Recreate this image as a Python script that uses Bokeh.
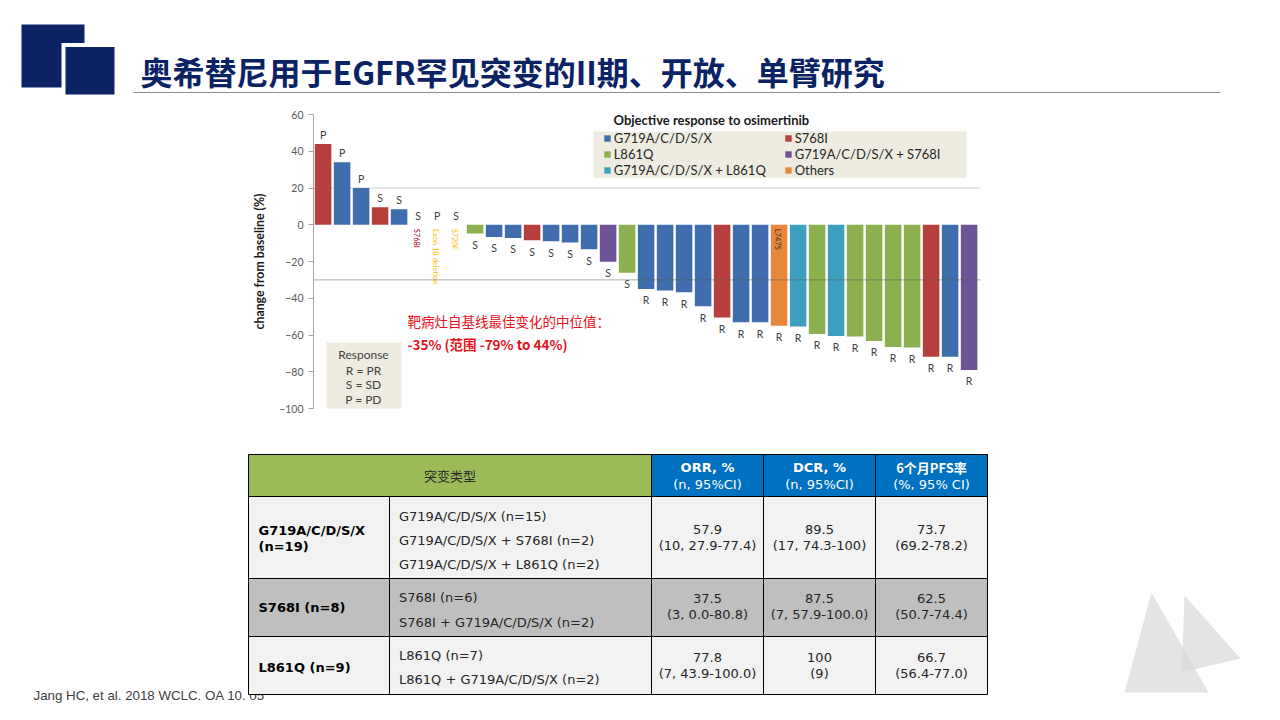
from math import pi
from bokeh.plotting import figure
from bokeh.layouts import column
from bokeh.models import Range1d, FixedTicker, Span, Legend, LegendItem, ColumnDataSource
from bokeh.core.properties import value
from bokeh.embed import file_html
from bokeh.resources import INLINE

# ---------------- data ----------------
bar_values = [44, 34, 20, 9.5, 8.5, 0, 0, 0, -4.8, -6.6, -7.2, -8.4, -9, -9.7, -13.4,
              -20.2, -26.1, -34.9, -35.8, -36.7, -44.3, -50.5, -53, -53, -54.9, -55.4,
              -59.4, -60.5, -60.8, -63.2, -66.5, -66.8, -71.8, -71.8, -79]
G = "G719A/C/D/S/X"
L = "L861Q"
GL = "G719A/C/D/S/X + L861Q"
S = "S768I"
GS = "G719A/C/D/S/X + S768I"
O = "Others"
bar_types = [S, G, G, S, G, S, O, O, L, G, G, S, G, G, G, GS, L, G, G, G, G, S, G, G, O, GL,
             L, GL, L, L, L, L, S, G, GS]
responses = ["P", "P", "P", "S", "S", "S", "P", "S", "S", "S", "S", "S", "S", "S", "S", "S", "S",
             "R", "R", "R", "R", "R", "R", "R", "R", "R", "R", "R", "R", "R", "R", "R", "R", "R", "R"]
legend_groups = [G, L, GL, S, GS, O]
reference_lines = [20, -30]
y_ticks = [60, 40, 20, 0, -20, -40, -60, -80, -100]
note_bars = [6, 7, 8, 25]
note_texts = ["S768I", "Exon 18 deletion", "S720F", "L747S"]
response_key = ["Response", "R = PR", "S = SD", "P = PD"]
median_text = ["靶病灶自基线最佳变化的中位值：", "-35% (范围 -79% to 44%)"]

title_text = "奥希替尼用于EGFR罕见突变的II期、开放、单臂研究"
legend_title = "Objective response to osimertinib"
y_label = "change from baseline (%)"

table_head_left = "突变类型"
table_head_metrics = [["ORR, %", "(n, 95%CI)"], ["DCR, %", "(n, 95%CI)"], ["6个月PFS率", "(%, 95% CI)"]]
table_groups = [["G719A/C/D/S/X", "(n=19)"], ["S768I (n=8)"], ["L861Q (n=9)"]]
table_subtypes = [["G719A/C/D/S/X (n=15)", "G719A/C/D/S/X + S768I (n=2)", "G719A/C/D/S/X + L861Q (n=2)"],
                  ["S768I (n=6)", "S768I + G719A/C/D/S/X (n=2)"],
                  ["L861Q (n=7)", "L861Q + G719A/C/D/S/X (n=2)"]]
table_orr = [["57.9", "(10, 27.9-77.4)"], ["37.5", "(3, 0.0-80.8)"], ["77.8", "(7, 43.9-100.0)"]]
table_dcr = [["89.5", "(17, 74.3-100)"], ["87.5", "(7, 57.9-100.0)"], ["100", "(9)"]]
table_pfs = [["73.7", "(69.2-78.2)"], ["62.5", "(50.7-74.4)"], ["66.7", "(56.4-77.0)"]]
citation = "Jang HC, et al. 2018 WCLC. OA 10. 05"

# ---------------- styles ----------------
NAVY = "#0B2265"
colors = {G: "#3F6DAD", L: "#8CAF4F", GL: "#3F9FBE", S: "#B5403D", GS: "#6D5295", O: "#E5873C"}
note_colors = ["#A50021", "#FFC000", "#FFC000", "#3B2A14"]
W = 1264
H_HDR, H_CH, H_BT = 105, 325, 274


def blank(height, y0, y1):
    f = figure(width=W, height=height, x_range=Range1d(0, W), y_range=Range1d(y1, y0),
               output_backend="svg", toolbar_location=None, min_border=0,
               x_axis_location=None, y_axis_location=None, title=None, frame_align=False)
    f.xgrid.visible = False
    f.ygrid.visible = False
    f.outline_line_color = None
    f.background_fill_color = "white"
    return f


# ---------------- header ----------------
hdr = blank(H_HDR, 0, H_HDR)
hdr.quad(left=[21], right=[84], top=[24], bottom=[87], fill_color=NAVY, line_color=None)
hdr.quad(left=[61], right=[118], top=[42.5], bottom=[98], fill_color="white", line_color=None)
hdr.quad(left=[65], right=[114], top=[46.5], bottom=[94], fill_color=NAVY, line_color=None)
hdr.text(x=[140], y=[70], text=[title_text], text_font=value("Noto Sans CJK SC"),
         text_font_style="bold", text_font_size="32px", text_color=NAVY,
         text_baseline="middle", text_align="left")
hdr.segment(x0=[133], x1=[1220], y0=[92], y1=[92], line_color="#8C8C8C", line_width=1)

# ---------------- chart ----------------
FX0, FX1 = 313, 980
FY0, FY1 = 114, 408
PITCH = 19.0
XS = 0.495
XE = XS + (FX1 - FX0) / PITCH
YMIN, YMAX = -100, 60


def dx(px):
    return XS + (px - FX0) / PITCH


def dy(py):
    return YMAX - (py - FY0) * (YMAX - YMIN) / (FY1 - FY0)


p = figure(width=W, height=H_CH, x_range=Range1d(XS, XE), y_range=Range1d(YMIN, YMAX),
           output_backend="svg", toolbar_location=None, title=None, frame_align=False,
           min_border_left=FX0, min_border_right=W - FX1,
           min_border_top=FY0 - H_HDR, min_border_bottom=H_HDR + H_CH - FY1,
           x_axis_location=None)
p.xgrid.visible = False
p.ygrid.visible = False
p.outline_line_color = None
yax = p.yaxis[0]
yax.ticker = FixedTicker(ticks=y_ticks)
yax.minor_tick_line_color = None
yax.major_tick_in = 0
yax.major_tick_out = 5
yax.major_tick_line_color = "#A6A6A6"
yax.axis_line_color = "#A6A6A6"
yax.major_label_text_font = "Lato"
yax.major_label_text_font_size = "10.5px"
yax.major_label_text_color = "#595959"
yax.major_label_standoff = 5
yax.axis_label = y_label
yax.axis_label_text_font = "Lato"
yax.axis_label_text_font_size = "12.3px"
yax.axis_label_text_font_style = "bold"
yax.axis_label_text_color = "#1a1a1a"
yax.axis_label_standoff = 9

# +20 reference line behind bars, -30 over bars
p.add_layout(Span(location=reference_lines[0], dimension="width", line_color="#9A9A9A",
                  line_dash="1 1", line_width=1, level="underlay"))

# legend background box
p.quad(left=[dx(593)], right=[dx(966)], top=[dy(131)], bottom=[dy(177.5)],
       fill_color="#EEECE1", line_color=None)

xs = list(range(1, len(bar_values) + 1))
items = []
for g in legend_groups:
    idx = [i for i, t in enumerate(bar_types) if t == g]
    src = ColumnDataSource(dict(x=[xs[i] for i in idx], top=[bar_values[i] for i in idx]))
    r = p.vbar(x="x", top="top", bottom=0, width=0.87, source=src,
               fill_color=colors[g], line_color=None)
    items.append(LegendItem(label=g, renderers=[r]))

p.add_layout(Span(location=reference_lines[1], dimension="width", line_color="#5A5A5A",
                  line_dash="1 1", line_width=1))

# response letters
offs = [-9 if v >= 0 else 11.5 for v in bar_values]
p.text(x=xs, y=bar_values, text=responses, y_offset=offs, text_font=value("Lato"),
       text_font_size="10.5px", text_color="#404040", text_align="center",
       text_baseline="middle")

# mutation notes (vertical)
p.text(x=note_bars, y=[0] * len(note_bars), text=note_texts, angle=-pi / 2,
       x_offset=-2, y_offset=4, text_font=value("Lato"), text_font_size="7.5px",
       text_color=note_colors, text_align="left", text_baseline="middle")

legend = Legend(items=items, location=(602.7 - FX0, FY1 - 178.3), ncols=2,
                padding=0, spacing=0, margin=0, glyph_width=8, glyph_height=8,
                label_standoff=3, label_height=16, label_width=170,
                label_text_font="Lato", label_text_font_size="13px",
                label_text_color="#262626", background_fill_alpha=0,
                border_line_color=None)
p.add_layout(legend, "center")

p.text(x=[dx(613)], y=[dy(119.3)], text=[legend_title], text_font=value("Lato"),
       text_font_style="bold", text_font_size="13px", text_color="#1a1a1a",
       text_align="left", text_baseline="middle")

# response key box
p.quad(left=[dx(326)], right=[dx(401)], top=[dy(342)], bottom=[dy(410)],
       fill_color="#EEECE1", line_color=None)
p.text(x=[dx(363)] * 4, y=[dy(354.3), dy(369.5), dy(384), dy(398.5)], text=response_key,
       text_font=value("Lato"), text_font_size="12px", text_color="#404040",
       text_align="center", text_baseline="middle")

# median annotation
p.text(x=[dx(407)], y=[dy(320)], text=[median_text[0]], text_font=value("Noto Sans CJK SC"),
       text_font_size="13.5px", text_color="#E8101A", text_align="left", text_baseline="middle")
p.text(x=[dx(407)], y=[dy(343.3)], text=[median_text[1]], text_font=value("Noto Sans CJK SC"),
       text_font_style="bold", text_font_size="13.5px", text_color="#E8101A",
       text_align="left", text_baseline="middle")

# ---------------- bottom (table) ----------------
Y0_BT = H_HDR + H_CH
bt = blank(H_BT, Y0_BT, Y0_BT + H_BT)
bt.text(x=[33], y=[695], text=[citation], text_font=value("Liberation Sans"),
        text_font_size="13.3px", text_color="#404040", text_align="left", text_baseline="middle")

col_edges = [248, 389, 651, 763, 875, 987]
row_edges = [454, 496, 578, 636, 694]
row_fills = ["#F2F2F2", "#BFBFBF", "#F2F2F2"]

bt.quad(left=[col_edges[0]], right=[col_edges[2]], top=[row_edges[0]], bottom=[row_edges[1]],
        fill_color="#9BBB59", line_color="black", line_width=1)
bt.quad(left=col_edges[2:5], right=col_edges[3:6], top=[row_edges[0]] * 3,
        bottom=[row_edges[1]] * 3, fill_color="#0070C0", line_color="black", line_width=1)
for r in range(3):
    bt.quad(left=col_edges[:5], right=col_edges[1:], top=[row_edges[r + 1]] * 5,
            bottom=[row_edges[r + 2]] * 5, fill_color=row_fills[r], line_color="black",
            line_width=1)

TXT = "#262626"
TF = value("DejaVu Sans")
FS = "13px"
bt.text(x=[(col_edges[0] + col_edges[2]) / 2], y=[475], text=[table_head_left],
        text_font=value("Noto Sans CJK SC"), text_font_size="13px", text_color=TXT,
        text_align="center", text_baseline="middle")
centers = [(col_edges[i] + col_edges[i + 1]) / 2 for i in range(2, 5)]
for i, (l1, l2) in enumerate(table_head_metrics):
    fnt = value("Noto Sans CJK SC") if i == 2 else TF
    bt.text(x=[centers[i]], y=[467], text=[l1], text_font=fnt, text_font_style="bold",
            text_font_size=FS, text_color="white", text_align="center",
            text_baseline="middle")
    bt.text(x=[centers[i]], y=[484], text=[l2], text_font=TF, text_font_size=FS,
            text_color="white", text_align="center", text_baseline="middle")

group_y = [[530, 546], [606.7], [666.7]]
sub_y = [[515.7, 540, 564], [596.7, 621.7], [655, 678.7]]
val_y = [[529.3, 545.3], [598.3, 614], [656.7, 672.7]]
for r in range(3):
    bt.text(x=[258] * len(table_groups[r]), y=group_y[r], text=table_groups[r], text_font=TF,
            text_font_style="bold", text_font_size=FS, text_color="black",
            text_align="left", text_baseline="middle")
    bt.text(x=[398.5] * len(table_subtypes[r]), y=sub_y[r], text=table_subtypes[r],
            text_font=TF, text_font_size=FS, text_color=TXT, text_align="left",
            text_baseline="middle")
    for c, col in enumerate([table_orr, table_dcr, table_pfs]):
        bt.text(x=[centers[c]] * 2, y=val_y[r], text=col[r], text_font=TF,
                text_font_size=FS, text_color=TXT, text_align="center",
                text_baseline="middle")

bt.patches(xs=[[1151, 1124, 1208], [1184, 1240, 1181]], ys=[[592, 692, 692], [595, 658, 672]],
           fill_color="#D9D9D9", fill_alpha=0.7, line_color=None)

layout = column(hdr, p, bt, spacing=0)
open("out.html", "w").write(file_html(layout, INLINE))
